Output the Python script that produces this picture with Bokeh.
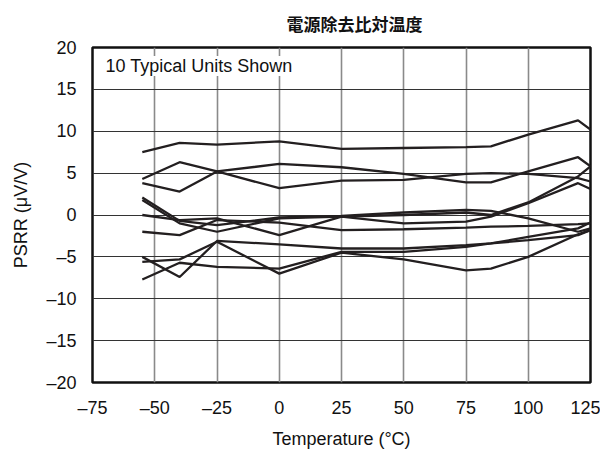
from bokeh.plotting import figure
from bokeh.models import FixedTicker, Label, Title
from bokeh.embed import file_html
from bokeh.resources import INLINE

# Temperature points (°C)
temps = [-55, -40, -25, 0, 25, 50, 75, 85, 100, 120, 125]

# PSRR (µV/V) for 10 typical units
unit1 = [7.5, 8.6, 8.4, 8.8, 7.9, 8.0, 8.1, 8.2, 9.6, 11.3, 10.2]
unit2 = [4.3, 6.3, 5.2, 6.1, 5.7, 4.9, 3.9, 3.9, 5.2, 6.9, 5.8]
unit3 = [3.8, 2.8, 5.2, 3.2, 4.1, 4.2, 4.9, 5.0, 4.9, 4.4, 4.0]
unit4 = [2.1, -0.7, -1.2, -0.3, -0.1, 0.3, 0.6, 0.5, -0.4, -2.0, -1.6]
unit5 = [1.8, -1.0, -2.0, -0.4, -0.2, 0.0, 0.3, 0.0, 1.5, 4.6, 5.8]
unit6 = [0.0, -0.6, -0.4, -2.4, -0.2, -1.0, -0.8, -0.2, 1.4, 3.8, 3.1]
unit7 = [-2.0, -2.4, -0.6, -0.9, -1.8, -1.7, -1.5, -1.4, -1.3, -1.1, -1.0]
unit8 = [-5.0, -7.4, -3.1, -3.5, -4.0, -4.0, -3.6, -3.4, -3.0, -2.4, -1.8]
unit9 = [-5.6, -5.3, -3.2, -7.0, -4.5, -5.3, -6.6, -6.4, -5.0, -2.3, -1.8]
unit10 = [-7.7, -5.7, -6.2, -6.4, -4.4, -4.4, -3.8, -3.4, -2.6, -1.6, -0.9]
units = [unit1, unit2, unit3, unit4, unit5, unit6, unit7, unit8, unit9, unit10]

x_ticks = [-75, -50, -25, 0, 25, 50, 75, 100, 125]
y_ticks = [-20, -15, -10, -5, 0, 5, 10, 15, 20]

title_text = "電源除去比対温度"
x_label = "Temperature (°C)"
y_label = "PSRR (μV/V)"
note_text = "10 Typical Units Shown"

FONT = "Liberation Sans"

p = figure(frame_width=498, frame_height=335, x_range=(-75, 125), y_range=(-20, 20),
           output_backend="svg", toolbar_location=None,
           min_border_left=92, min_border_right=10,
           min_border_top=46, min_border_bottom=58)

t = Title(text=title_text, text_font="Liberation Sans, Noto Sans CJK JP",
          text_font_size="17px", text_font_style="bold", align="left",
          offset=194, standoff=26, text_color="#111111")
p.add_layout(t, "above")

for u in units:
    p.line(temps, u, line_color="#231f20", line_width=2.3)

def dash(v):
    return ("\u2013" + str(abs(v))) if v < 0 else str(v)

p.xaxis.ticker = FixedTicker(ticks=x_ticks)
p.yaxis.ticker = FixedTicker(ticks=y_ticks)
p.xaxis.major_label_overrides = {v: dash(v) for v in x_ticks}
p.yaxis.major_label_overrides = {v: dash(v) for v in y_ticks}

for ax in (p.xaxis[0], p.yaxis[0]):
    ax.axis_line_color = None
    ax.major_tick_line_color = None
    ax.minor_tick_line_color = None
    ax.major_tick_out = 0
    ax.major_tick_in = 0
    ax.major_label_text_font = FONT
    ax.major_label_text_font_size = "18px"
    ax.major_label_text_color = "#111111"
    ax.axis_label_text_font = FONT
    ax.axis_label_text_font_size = "18px"
    ax.axis_label_text_font_style = "normal"
    ax.axis_label_text_color = "#111111"

p.xaxis.axis_label = x_label
p.yaxis.axis_label = y_label
p.xaxis.major_label_standoff = 15
p.yaxis.major_label_standoff = 16
p.xaxis.axis_label_standoff = 8
p.yaxis.axis_label_standoff = 12

p.xgrid.grid_line_color = "#8a8a8a"
p.xgrid.grid_line_width = 1.6
p.ygrid.grid_line_color = "#333333"
p.ygrid.grid_line_width = 1.0

p.outline_line_color = "#111111"
p.outline_line_width = 2.5

note = Label(x=-69.8, y=17.8, text=note_text, text_font=FONT, text_font_size="18px",
             text_baseline="middle", text_color="#111111",
             background_fill_color="white")
p.add_layout(note)

open("out.html", "w").write(file_html(p, INLINE))
